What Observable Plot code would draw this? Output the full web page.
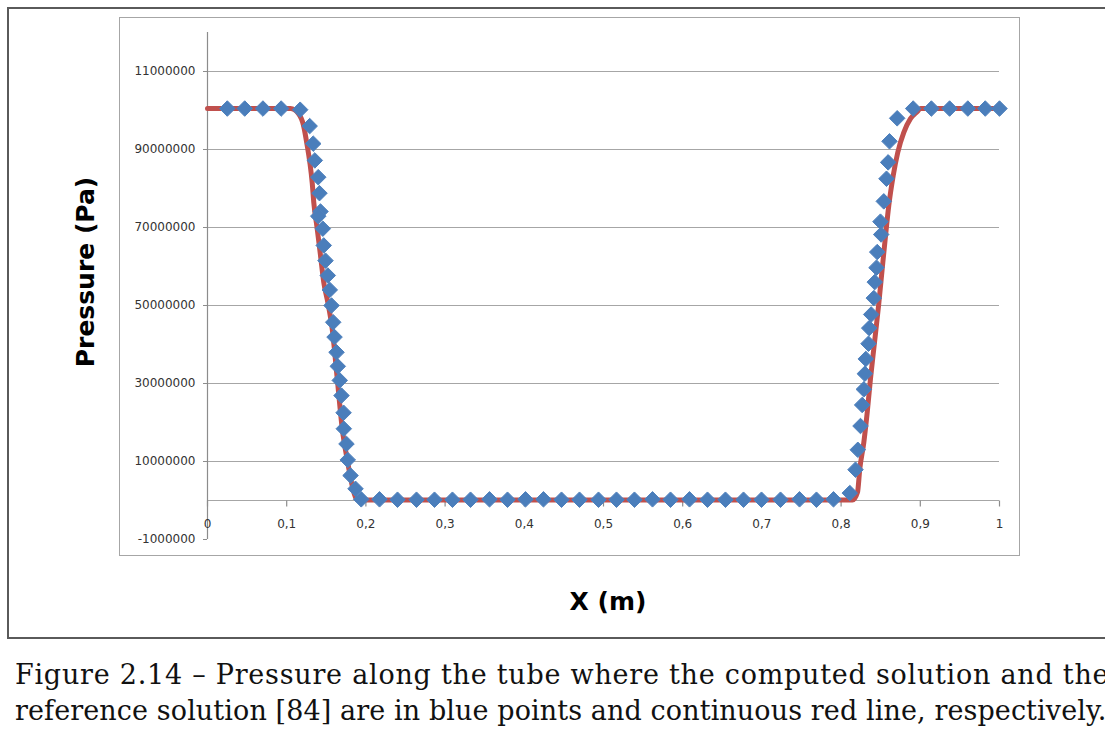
<!DOCTYPE html>
<html>
<head>
<meta charset="utf-8">
<script src="https://cdn.jsdelivr.net/npm/d3@7"></script>
<script src="https://cdn.jsdelivr.net/npm/@observablehq/plot@0.6"></script>
<style>
  html, body { margin: 0; padding: 0; background: #fff; width: 1105px; height: 737px; overflow: hidden; position: relative; }
  #outer { position: absolute; left: 7px; top: 7px; width: 1200px; height: 632px; border: 2px solid #5a5a5a; box-sizing: border-box; }
  #inner { position: absolute; left: 119px; top: 17px; width: 901px; height: 539px; border: 1px solid #a6a6a6; box-sizing: border-box; }
  #chart { position: absolute; left: 0; top: 0; }
  #chart svg { background: transparent; }
  #chart svg text { font-family: "DejaVu Sans", sans-serif !important; font-size: 12px !important; }
  .ytitle { position: absolute; left: 85px; top: 272px; transform: translate(-50%, -50%) rotate(-90deg); font: bold 25px "DejaVu Sans", sans-serif; color: #000; white-space: nowrap; }
  .xtitle { position: absolute; left: 608px; top: 601px; transform: translate(-50%, -50%); font: bold 25px "DejaVu Sans", sans-serif; color: #000; white-space: nowrap; }
  #caption { position: absolute; left: 15px; top: 657px; font: 27px "DejaVu Serif", serif; line-height: 36px; color: #111; white-space: nowrap; }
  #caption .l1 { letter-spacing: 0.75px; }
  #caption .l2 { letter-spacing: 0.1px; }
</style>
</head>
<body>
<div id="outer"></div>
<div id="inner"></div>
<div id="chart"></div>
<div class="ytitle">Pressure (Pa)</div>
<div class="xtitle">X (m)</div>
<div id="caption"><span class="l1">Figure 2.14 – Pressure along the tube where the computed solution and the</span><br><span class="l2">reference solution [84] are in blue points and continuous red line, respectively.</span></div>
<script>
// Computed solution (blue points): position (m) and pressure (Pa)
const computedX = [
  0.025, 0.047, 0.070, 0.093, 0.117,
  0.129, 0.1335, 0.1355, 0.1398, 0.1414, 0.1427, 0.1398, 0.1456, 0.1468, 0.1490, 0.1519, 0.1544, 0.1566,
  0.1587, 0.1604, 0.1629, 0.1645, 0.1670, 0.1692, 0.1718, 0.1721, 0.1755, 0.1771, 0.1806, 0.1869, 0.1941,
  0.2172, 0.2399, 0.2639, 0.2866, 0.3093, 0.3321, 0.3561, 0.3788, 0.4015, 0.4242, 0.4470, 0.4697, 0.4937,
  0.5164, 0.5391, 0.5619, 0.5846, 0.6086, 0.6313, 0.6540, 0.6768, 0.6995, 0.7235, 0.7475, 0.7689, 0.7904,
  0.8110, 0.8182, 0.8211, 0.8245, 0.8266, 0.8287, 0.8300, 0.8312, 0.8346, 0.8355, 0.8380, 0.8413, 0.8425,
  0.8447, 0.8456, 0.8506, 0.8497, 0.8539, 0.8573, 0.8594, 0.8611, 0.8708,
  0.891, 0.914, 0.937, 0.960, 0.982, 1.0
];
const computedP = [
  100.5e6, 100.5e6, 100.5e6, 100.5e6, 100.2e6,
  96.0e6, 91.5e6, 87.2e6, 82.9e6, 78.8e6, 74.1e6, 72.9e6, 69.7e6, 65.4e6, 61.5e6, 57.7e6, 54.0e6, 50.0e6,
  45.7e6, 41.9e6, 38.0e6, 34.4e6, 30.8e6, 26.9e6, 22.5e6, 18.4e6, 14.5e6, 10.4e6, 6.4e6, 3.0e6, 0.3e6,
  0.3e6, 0.2e6, 0.2e6, 0.2e6, 0.2e6, 0.2e6, 0.3e6, 0.2e6, 0.3e6, 0.3e6, 0.2e6, 0.2e6, 0.2e6,
  0.2e6, 0.2e6, 0.3e6, 0.2e6, 0.3e6, 0.2e6, 0.2e6, 0.2e6, 0.2e6, 0.2e6, 0.3e6, 0.2e6, 0.3e6,
  1.9e6, 7.9e6, 13.0e6, 19.1e6, 24.5e6, 28.5e6, 32.5e6, 36.3e6, 40.2e6, 44.2e6, 47.7e6, 51.9e6, 56.0e6,
  59.7e6, 63.7e6, 68.2e6, 71.5e6, 76.7e6, 82.5e6, 86.7e6, 92.1e6, 98.0e6,
  100.5e6, 100.5e6, 100.5e6, 100.5e6, 100.5e6, 100.5e6
];
// Reference solution (red line)
const referenceX = [
  0, 0.1048, 0.1149, 0.1212, 0.1259, 0.1292, 0.1322, 0.1342, 0.1385, 0.1427, 0.1468, 0.1519, 0.1574,
  0.1638, 0.1701, 0.1771, 0.1827, 0.1881, 0.193,
  0.8144, 0.8207, 0.8236, 0.8287, 0.8330, 0.8371, 0.8422, 0.8476, 0.8519, 0.8561, 0.8602, 0.8658,
  0.8716, 0.8792, 0.8876, 0.8961, 0.9003, 1.0
];
const referenceP = [
  100.5e6, 100.5e6, 99.2e6, 96.2e6, 91.0e6, 86.7e6, 81.5e6, 76.4e6, 69.7e6, 62.8e6, 55.9e6, 50.8e6, 44.1e6,
  31.3e6, 18.5e6, 9.7e6, 3.8e6, 0.3e6, 0.1e6,
  0.1e6, 2.1e6, 8.1e6, 14.9e6, 22.6e6, 31.2e6, 40.6e6, 50.5e6, 59.4e6, 67.9e6, 75.6e6, 83.3e6,
  89.3e6, 94.4e6, 97.9e6, 99.7e6, 100.5e6, 100.5e6
];
const xTicks = [0, 0.1, 0.2, 0.3, 0.4, 0.5, 0.6, 0.7, 0.8, 0.9, 1];
const xTickLabels = ["0", "0,1", "0,2", "0,3", "0,4", "0,5", "0,6", "0,7", "0,8", "0,9", "1"];
const yTicks = [110e6, 90e6, 70e6, 50e6, 30e6, 10e6, -10e6];
const yTickLabels = ["11000000", "90000000", "70000000", "50000000", "30000000", "10000000", "-1000000"];
const yGrid = [110e6, 90e6, 70e6, 50e6, 30e6, 10e6];

const computed = computedX.map((x, i) => ({x, p: computedP[i]}));
const reference = referenceX.map((x, i) => ({x, p: referenceP[i]}));

const tickDown = { draw(context) { context.moveTo(0, 0); context.lineTo(0, 6); } };

const chart = Plot.plot({
  width: 1105,
  height: 560,
  marginLeft: 207,
  marginRight: 106,
  marginTop: 32,
  marginBottom: 21,
  style: { background: "transparent", fontFamily: "DejaVu Sans, sans-serif", fontSize: "12px" },
  x: { domain: [0, 1], axis: null },
  y: { domain: [-10e6, 120e6], axis: null },
  marks: [
    Plot.gridY(yGrid, { stroke: "#a6a6a6", strokeOpacity: 1, strokeWidth: 1.2 }),
    Plot.ruleY([0], { stroke: "#a6a6a6", strokeWidth: 1.2 }),
    Plot.ruleX([0], { stroke: "#8c8c8c", strokeWidth: 1.2 }),
    Plot.axisY(yTicks, {
      label: null, tickSize: 4, tickPadding: 8, stroke: "#8c8c8c", fontSize: 12, fill: "#333",
      tickFormat: d => yTickLabels[yTicks.indexOf(d)]
    }),
    Plot.dot(xTicks, { x: d => d, y: 0, symbol: tickDown, r: 3, stroke: "#8c8c8c", fill: "none", strokeWidth: 1.2 }),
    Plot.text(xTicks, { x: d => d, y: 0, dy: 24, text: (d, i) => xTickLabels[i], fontSize: 12, fill: "#333" }),
    Plot.line(reference, { x: "x", y: "p", stroke: "#C0504D", strokeWidth: 5, strokeLinejoin: "round", curve: "monotone-x" }),
    Plot.dot(computed, { x: "x", y: "p", symbol: "diamond2", r: 7, fill: "#4A7EBB", stroke: "#4F81BD", strokeWidth: 1 })
  ]
});
document.getElementById("chart").appendChild(chart);
</script>
</body>
</html>
